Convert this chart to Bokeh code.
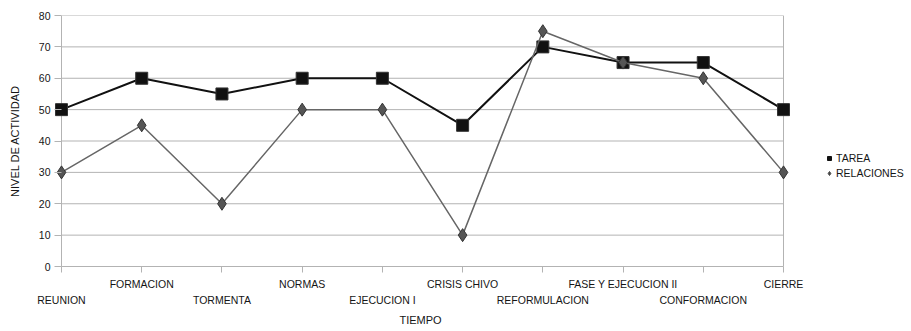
from bokeh.plotting import figure
from bokeh.models import Range1d, FixedTicker, LinearAxis, Legend, LegendItem, Title
from bokeh.embed import file_html
from bokeh.resources import INLINE

categories = ["REUNION", "FORMACION", "TORMENTA", "NORMAS", "EJECUCION I",
              "CRISIS CHIVO", "REFORMULACION", "FASE Y EJECUCION II",
              "CONFORMACION", "CIERRE"]
tarea = [50, 60, 55, 60, 60, 45, 70, 65, 65, 50]
relaciones = [30, 45, 20, 50, 50, 10, 75, 65, 60, 30]
y_ticks = [0, 10, 20, 30, 40, 50, 60, 70, 80]
series_names = ["TAREA", "RELACIONES"]
x_title = "TIEMPO"
y_title = "NIVEL DE ACTIVIDAD"

xs = list(range(len(categories)))
x_first, x_last = xs[0], xs[-1]
FONT = "Liberation Sans"
GRID = "#b3b3b3"
TXT = "#151515"

# layout (pixels): data area 722 px wide starting at x=61; frame starts 7 px earlier
W, H = 911, 331
PAD = 7
BORDER_LEFT = 61 - PAD
PX_PER_UNIT = 722 / (x_last - x_first)
x_start = x_first - PAD / PX_PER_UNIT
x_end = x_start + (W - BORDER_LEFT) / PX_PER_UNIT

p = figure(width=W, height=H, output_backend="svg", toolbar_location=None,
           x_range=Range1d(x_start, x_end), y_range=Range1d(y_ticks[0], y_ticks[-1]),
           min_border_left=BORDER_LEFT, min_border_top=15, min_border_right=0,
           min_border_bottom=65, x_axis_location=None)
p.outline_line_color = None
p.xgrid.visible = False
p.ygrid.visible = False

# horizontal grid lines, left axis line and right border, limited to the data span
p.segment(x0=[x_first] * len(y_ticks), x1=[x_last] * len(y_ticks), y0=y_ticks, y1=y_ticks,
          line_color=GRID, line_width=1)
p.segment(x0=[x_first, x_last], x1=[x_first, x_last], y0=[y_ticks[0]] * 2, y1=[y_ticks[-1]] * 2,
          line_color=GRID, line_width=1)

ya = p.yaxis[0]
ya.ticker = FixedTicker(ticks=y_ticks)
ya.axis_line_color = None
ya.major_tick_line_color = GRID
ya.major_tick_out = 0
ya.major_tick_in = PAD
ya.minor_tick_line_color = None
ya.major_label_text_font = FONT
ya.major_label_text_font_size = "10.5px"
ya.major_label_text_color = TXT
ya.major_label_standoff = 4
ya.axis_label = y_title
ya.axis_label_text_font = FONT
ya.axis_label_text_font_size = "11px"
ya.axis_label_text_font_style = "normal"
ya.axis_label_text_color = TXT
ya.axis_label_standoff = 15

ax1 = LinearAxis(ticker=FixedTicker(ticks=xs), bounds=(x_first, x_last))
ax1.major_label_overrides = {i: (categories[i] if i % 2 == 1 else "") for i in xs}
ax1.axis_line_color = GRID
ax1.major_tick_line_color = GRID
ax1.major_tick_out = 6
ax1.major_tick_in = 0
ax1.minor_tick_line_color = None
ax1.major_label_text_font = FONT
ax1.major_label_text_font_size = "10.5px"
ax1.major_label_text_color = TXT
ax1.major_label_standoff = 5
p.add_layout(ax1, "below")

ax2 = LinearAxis(ticker=FixedTicker(ticks=xs[::2]), bounds=(x_first, x_last))
ax2.major_label_overrides = {i: categories[i] for i in xs[::2]}
ax2.axis_line_color = None
ax2.major_tick_line_color = None
ax2.minor_tick_line_color = None
ax2.major_tick_out = 0
ax2.major_tick_in = 0
ax2.major_label_text_font = FONT
ax2.major_label_text_font_size = "10.5px"
ax2.major_label_text_color = TXT
ax2.major_label_standoff = 1
p.add_layout(ax2, "below")

# x title centred under the data span (frame extends to the right for the legend)
title_w = 42
t = Title(text=x_title, align="left", offset=(61 + 359) - BORDER_LEFT - title_w / 2,
          text_font=FONT, text_font_size="11px", text_font_style="normal",
          text_color=TXT, standoff=6)
p.add_layout(t, "below")

p.line(xs, tarea, line_color="#111111", line_width=2)
p.scatter(xs, tarea, marker="square", size=12, fill_color="#111111",
          line_color="#333333", line_width=1)
p.line(xs, relaciones, line_color="#666666", line_width=1.5)
p.scatter(xs, relaciones, marker="diamond", size=13, fill_color="#555555",
          line_color="#333333", line_width=1)

lm1 = p.scatter([x_first], [y_ticks[0]], marker="square", size=8, fill_color="#111111",
                line_color="#111111", visible=False)
lm2 = p.scatter([x_first], [y_ticks[0]], marker="diamond", size=9, fill_color="#444444",
                line_color="#444444", visible=False)

legend = Legend(items=[LegendItem(label=series_names[0], renderers=[lm1]),
                       LegendItem(label=series_names[1], renderers=[lm2])],
                location=(824 - BORDER_LEFT, 87), orientation="vertical")
legend.border_line_color = None
legend.background_fill_alpha = 0
legend.padding = 0
legend.margin = 0
legend.spacing = 3
legend.glyph_width = 10
legend.glyph_height = 12
legend.label_standoff = 2
legend.label_text_font = FONT
legend.label_text_font_size = "10.5px"
legend.label_text_color = TXT
legend.label_height = 12
p.add_layout(legend, "center")

open("out.html", "w").write(file_html(p, INLINE))
